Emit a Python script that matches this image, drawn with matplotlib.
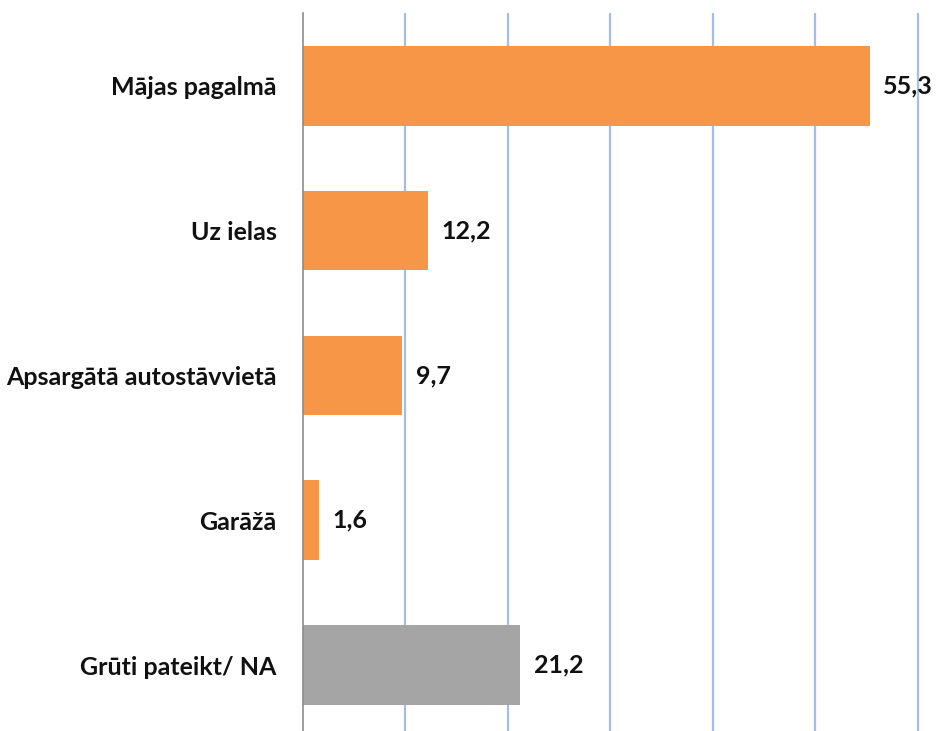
import matplotlib.pyplot as plt

categories = ['Mājas pagalmā', 'Uz ielas', 'Apsargātā autostāvvietā', 'Garāžā', 'Grūti pateikt/ NA']
values = [55.3, 12.2, 9.7, 1.6, 21.2]
colors = ['#F79646', '#F79646', '#F79646', '#F79646', '#A5A5A5']
value_labels = ['55,3', '12,2', '9,7', '1,6', '21,2']

plt.rcParams['font.family'] = ['Lato', 'DejaVu Sans']

fig = plt.figure(figsize=(9.36, 7.31), dpi=100)
ax = fig.add_axes([303 / 936, 0, 620 / 936, 718 / 731])

pos = list(range(len(categories)))
ax.barh(pos, values, height=0.55, color=colors, zorder=3)

for p, v, lab in zip(pos, values, value_labels):
    ax.text(v + 1.3, p, lab, va='center', ha='left', fontsize=18,
            fontweight='bold', color='#111111')

ax.set_xlim(0, 60.5)
ax.set_ylim(4.455, -0.503)
ax.set_xticks(range(10, 61, 10))
ax.xaxis.grid(True, color='#A4BDE9', linewidth=1.6, zorder=0)
ax.set_yticks(pos)
ax.set_yticklabels(categories, fontsize=18, fontweight='bold', color='#111111')
ax.tick_params(axis='y', length=0, pad=19)
ax.tick_params(axis='x', length=0, labelbottom=False)

for s in ['top', 'right', 'bottom']:
    ax.spines[s].set_visible(False)
ax.spines['left'].set_color('#8C8C8C')
ax.spines['left'].set_linewidth(1.2)
ax.spines['left'].set_zorder(4)

fig.savefig('out.png', dpi=100)
